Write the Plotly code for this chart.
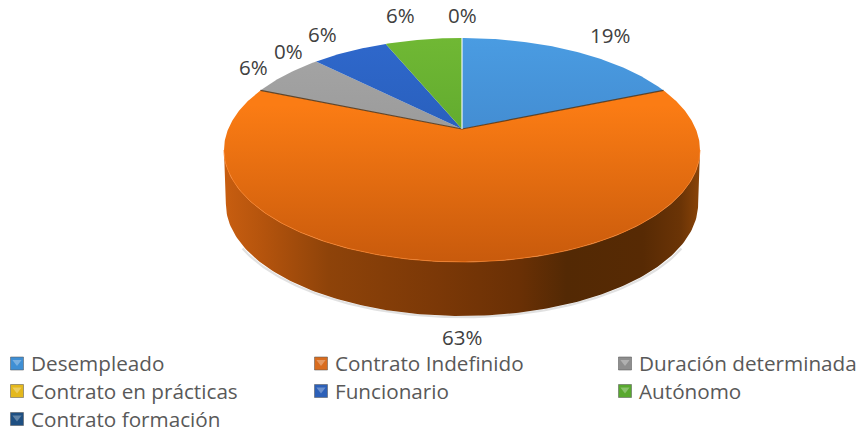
import numpy as np
import plotly.graph_objects as go

categories = ["Desempleado", "Contrato Indefinido", "Duración determinada",
              "Contrato en prácticas", "Funcionario", "Autónomo", "Contrato formación"]
values = [18.75, 62.5, 6.25, 0, 6.25, 6.25, 0]
top_light = ["#4A9CE2", "#FB7C14", "#A6A6A6", "#F5C518", "#2F68CC", "#70B834", "#255E9A"]
top_dark = ["#3A78BC", "#C85A0C", "#8C8C8C", "#C89A10", "#2054A8", "#4F9A28", "#1B4878"]
swatch = ["#3F8FD4", "#D96C1E", "#8E8E8E", "#E4B81C", "#2C60B8", "#58A82E", "#1E4F82"]

# picture geometry, all in page pixels
CX, CY, RX, RY, P, APEX = 462, 150, 233.8, 112, 0.1875, 21
DEPTH = 54
FONT = "Open Sans"


def project(frac, r=1.0):
    a = 2 * np.pi * np.asarray(frac, dtype=float)
    u, v = r * np.sin(a), r * np.cos(a)
    w = 1 + P * v
    return CX + RX * u / w, CY - (RY * v + APEX) / w


fig = go.Figure()
skip = dict(hoverinfo="skip", showlegend=False)

# soft shadow under the disc
ang = np.linspace(0.34, 0.66, 120)
sx, sy = project(ang)
fig.add_trace(go.Scatter(x=sx, y=sy + DEPTH + 1.2, mode="lines",
                         line=dict(color="rgba(120,120,120,0.22)", width=2.2), **skip))

# side wall of the disc, belongs to the big orange slice
fr = np.linspace(0.28, 0.72, 160)
tx, ty = project(fr)
bx = CX + (tx - CX) * 0.992
by = ty + DEPTH
fig.add_trace(go.Scatter(
    x=np.r_[tx, bx[::-1]], y=np.r_[ty, by[::-1]], mode="lines", fill="toself",
    line=dict(width=0, color="rgba(0,0,0,0)"),
    fillgradient=dict(type="horizontal", start=CX - 238, stop=CX + 238, colorscale=[
        [0.0, "#C85E10"], [0.08, "#B5540D"], [0.22, "#8E4309"], [0.45, "#7B3807"],
        [0.62, "#6A3005"], [0.72, "#532904"], [0.88, "#572A04"], [0.96, "#6B3406"], [1.0, "#8A4408"]]),
    **skip))

# top face slices
cum = np.r_[0, np.cumsum(values)] / 100.0
for i, name in enumerate(categories):
    f = np.linspace(cum[i], cum[i + 1], max(2, int(values[i] * 6)))
    x, y = project(f)
    ax, ay = project(0, 0)
    fig.add_trace(go.Scatter(
        x=np.r_[ax, x, ax], y=np.r_[ay, y, ay], mode="lines", fill="toself", name=name,
        line=dict(width=0, color="rgba(0,0,0,0)"),
        fillgradient=dict(type="vertical", start=37, stop=263,
                          colorscale=[[0, top_light[i]], [0.3, top_light[i]], [1, top_dark[i]]]
                          if i == 1 else [[0, top_light[i]], [1, top_dark[i]]]),
        **skip))

# front rim highlight
hx, hy = project(np.linspace(0.28, 0.72, 160))
fig.add_trace(go.Scatter(x=hx, y=hy, mode="lines",
                         line=dict(color="rgba(250,130,40,0.75)", width=1), **skip))

# slice edges
ax, ay = project(0, 0)
for frac, col, wd in [(cum[1], "rgba(80,50,20,0.85)", 1.2), (cum[2], "rgba(80,50,20,0.85)", 1.2),
                      (cum[7], "rgba(255,255,255,0.9)", 1.2)]:
    ex, ey = project(frac)
    fig.add_trace(go.Scatter(x=[ax, ex], y=[ay, ey], mode="lines",
                             line=dict(color=col, width=wd), **skip))

# data labels: anchored on the rim of each slice, nudged clear of it
nudge = [(36, -16), (0, 75), (-32, -8), (-28, -11), (-27, -17), (-23, -24), (0, -23)]
annotations = []
for i, v in enumerate(values):
    mid = (cum[i] + cum[i + 1]) / 2
    lx, ly = project(mid)
    annotations.append(dict(x=lx + nudge[i][0], y=ly + nudge[i][1], xref="x", yref="y",
                            text=f"{int(v + 0.5)}%", showarrow=False,
                            font=dict(family=FONT, size=20.5, color="#404040")))

# legend: three columns, three rows
col_x = [10, 314, 618]
row_y = [363.5, 391, 419]
for i, name in enumerate(categories):
    c, r = i % 3, i // 3
    fig.add_trace(go.Scatter(x=[col_x[c] + 7], y=[row_y[r]], mode="markers", name=name,
                             marker=dict(symbol="square", size=13, color=swatch[i],
                                         line=dict(color="rgba(90,90,90,0.55)", width=1)),
                             **skip))
    fig.add_trace(go.Scatter(x=[col_x[c] + 7], y=[row_y[r] - 1.5], mode="markers",
                             marker=dict(symbol="triangle-down", size=8,
                                         color="rgba(255,255,255,0.3)", line=dict(width=0)),
                             **skip))
    annotations.append(dict(x=col_x[c] + 19, y=row_y[r] - 0.5, xref="x", yref="y", xanchor="left",
                            text=name, showarrow=False,
                            font=dict(family=FONT, size=20.7, color="#595959")))

fig.update_layout(
    width=861, height=432, margin=dict(l=0, r=0, t=0, b=0),
    paper_bgcolor="white", plot_bgcolor="white", showlegend=False,
    annotations=annotations,
    xaxis=dict(range=[0, 861], visible=False, fixedrange=True),
    yaxis=dict(range=[432, 0], visible=False, fixedrange=True),
)
fig.write_html("out.html", config=dict(displayModeBar=False),
               post_script="document.body.style.margin='0';document.body.style.overflow='hidden';")
